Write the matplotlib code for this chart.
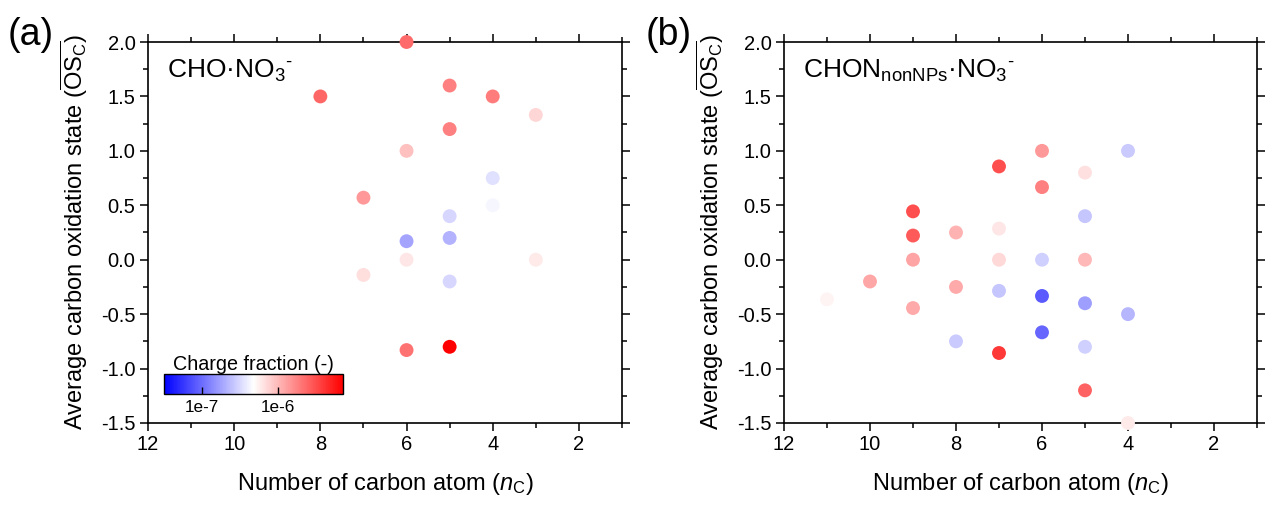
import numpy as np
import matplotlib
matplotlib.use("Agg")
import matplotlib.pyplot as plt
from matplotlib.colors import LogNorm
from matplotlib.ticker import MultipleLocator, FormatStrFormatter

plt.rcParams['font.family'] = ['Liberation Sans', 'DejaVu Sans']
plt.rcParams['mathtext.fontset'] = 'custom'
plt.rcParams['mathtext.rm'] = 'Liberation Sans'
plt.rcParams['mathtext.it'] = 'Liberation Sans:italic'
plt.rcParams['mathtext.bf'] = 'Liberation Sans:bold'
plt.rcParams['axes.unicode_minus'] = False

# ---- Data: panel (a) CHO·NO3-
a_nc = [6, 5, 8, 4, 3, 5, 6, 4, 7, 4, 5, 6, 5, 6, 3, 7, 5, 6, 5]
a_os = [2.0, 1.6, 1.5, 1.5, 1.33, 1.2, 1.0, 0.75, 0.57, 0.5, 0.4, 0.17, 0.2,
        0.0, 0.0, -0.14, -0.2, -0.83, -0.8]
a_cf = [2.3e-6, 1.8e-6, 2.4e-6, 1.9e-6, 7.3e-7, 1.8e-6, 9.3e-7, 3.4e-7, 1.4e-6,
        4.3e-7, 3.1e-7, 1.8e-7, 2.1e-7, 6.2e-7, 5.9e-7, 6.7e-7, 3.1e-7, 2.1e-6, 7.0e-6]

# ---- Data: panel (b) CHON_nonNPs·NO3-
b_nc = [4, 6, 5, 7, 6, 9, 5, 8, 7, 9, 9, 7, 6, 5, 10, 8, 7, 6, 5, 11, 9, 4, 8, 6,
        5, 7, 5, 4]
b_os = [1.0, 1.0, 0.8, 0.857, 0.667, 0.444, 0.4, 0.25, 0.286, 0.222, 0.0, 0.0, 0.0,
        0.0, -0.2, -0.25, -0.286, -0.333, -0.4, -0.364, -0.444, -0.5, -0.75, -0.667,
        -0.8, -0.857, -1.2, -1.5]
b_cf = [2.7e-7, 1.4e-6, 6.6e-7, 3.1e-6, 1.8e-6, 3.1e-6, 2.6e-7, 1.07e-6, 6.2e-7,
        2.7e-6, 1.23e-6, 7.1e-7, 2.9e-7, 1.0e-6, 1.2e-6, 1.15e-6, 2.6e-7, 8.2e-8,
        1.7e-7, 5.3e-7, 1.15e-6, 2.2e-7, 2.7e-7, 9.3e-8, 2.9e-7, 3.9e-6, 2.5e-6, 5.9e-7]

cbar_ticks = [1e-7, 1e-6]
cbar_ticklabels = ['1e-7', '1e-6']
vmin, vmax = 10**-7.5, 10**-5.15

W, H = 1277, 509
fig = plt.figure(figsize=(W/100, H/100), dpi=100)

def px_axes(l, r, t, b):
    return [l/W, 1 - b/H, (r-l)/W, (b-t)/H]

norm = LogNorm(vmin=vmin, vmax=vmax)
axes = []
for (l, r), nc, os_, cf, title, plabel, plx in [
        ((148, 622), a_nc, a_os, a_cf, "CHO·NO$_3$$^{\\text{-}}$", "(a)", 8),
        ((784, 1257), b_nc, b_os, b_cf, "CHON$_{\\mathrm{nonNPs}}$·NO$_3$$^{\\text{-}}$", "(b)", 646)]:
    ax = fig.add_axes(px_axes(l, r, 42, 423))
    sc = ax.scatter(nc, os_, c=cf, cmap='bwr', norm=norm, s=100, linewidths=0,
                    zorder=3, clip_on=False)
    ax.set_xlim(12, 1)
    ax.set_ylim(-1.5, 2.0)
    ax.xaxis.set_major_locator(MultipleLocator(2))
    ax.xaxis.set_minor_locator(MultipleLocator(1))
    ax.yaxis.set_major_locator(MultipleLocator(0.5))
    ax.yaxis.set_minor_locator(MultipleLocator(0.25))
    ax.yaxis.set_major_formatter(FormatStrFormatter('%.1f'))
    ax.tick_params(which='both', direction='out', top=True, right=True, width=1.1)
    ax.tick_params(which='major', length=6, labelsize=14.5, pad=3)
    ax.tick_params(which='minor', length=3.5)
    for sp in ax.spines.values():
        sp.set_linewidth(1.2)
    ax.set_xlabel("Number of carbon atom ($n_{\\mathrm{C}}$)", fontsize=17, labelpad=12)
    ax.set_ylabel("Average carbon oxidation state ($\\overline{\\mathrm{OS}_{\\mathrm{C}}}$)",
                  fontsize=17, labelpad=8)
    ax.text(0.04, 0.905, title, transform=ax.transAxes, fontsize=19, va='baseline', ha='left')
    fig.text(plx/W, 1 - 35/H, plabel, fontsize=27, va='center', ha='left')
    axes.append(ax)

cax = fig.add_axes(px_axes(164, 343, 374, 394))
cb = fig.colorbar(sc, cax=cax, orientation='horizontal')
cb.set_ticks(cbar_ticks)
cb.set_ticklabels(cbar_ticklabels)
cb.ax.minorticks_off()
cb.ax.tick_params(direction='in', length=5, width=1, labelsize=12.3, pad=4)
cb.outline.set_linewidth(1)
cb.ax.set_title("Charge fraction (-)", fontsize=14.2, pad=3)

fig.savefig("out.png", dpi=100)
